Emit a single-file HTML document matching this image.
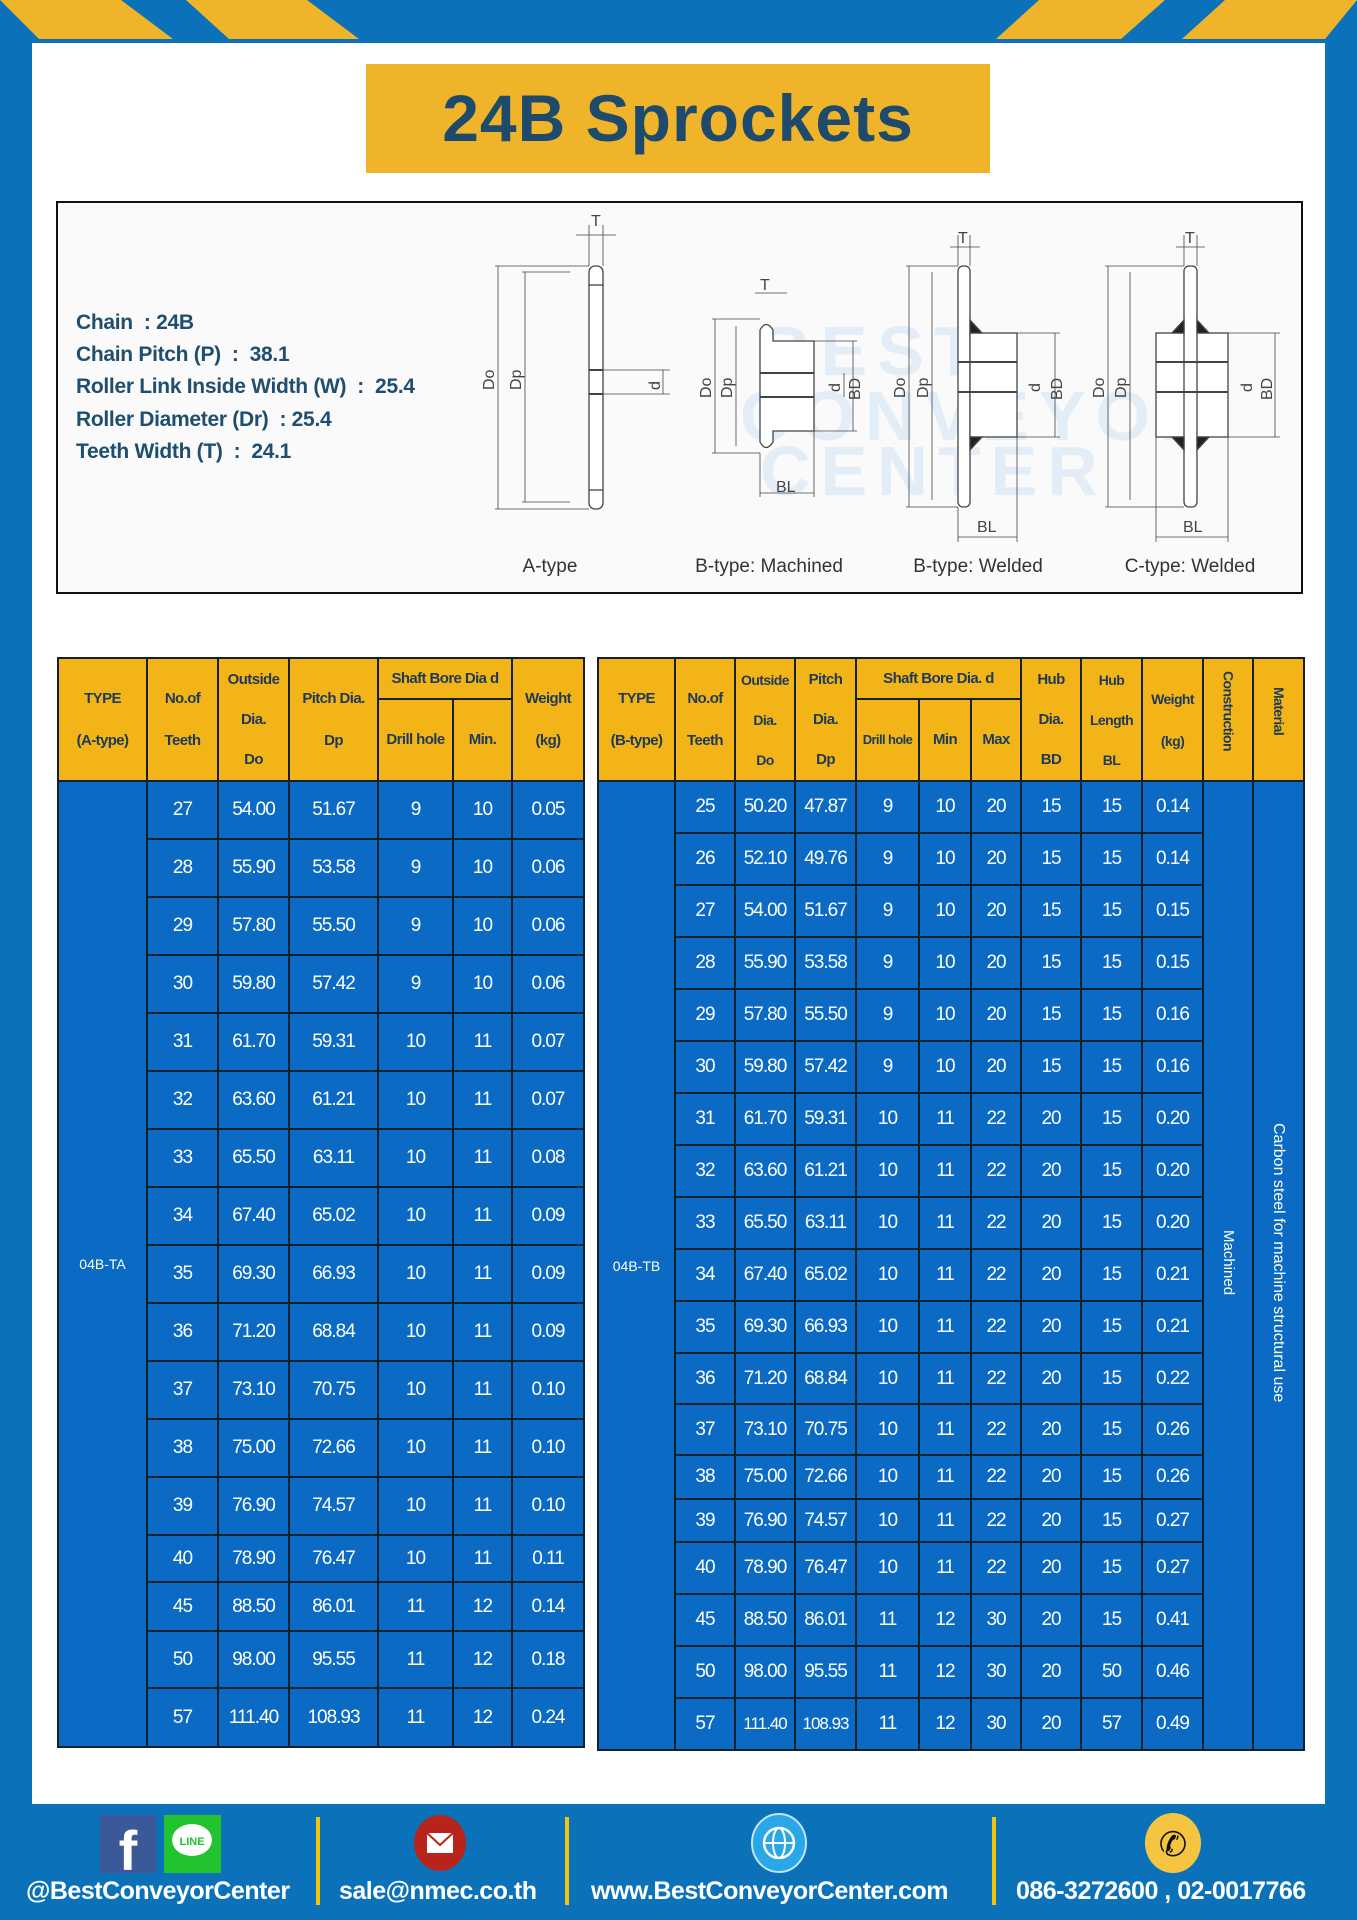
<!DOCTYPE html>
<html><head><meta charset="utf-8">
<style>
*{margin:0;padding:0;box-sizing:border-box}
body{width:1357px;height:1920px;position:relative;background:#0b72ba;font-family:"Liberation Sans",sans-serif;overflow:hidden}
.abs{position:absolute}
#white{left:32px;top:43px;width:1293px;height:1761px;background:#fff}
#title{left:366px;top:64px;width:624px;height:109px;background:#f0b42a;color:#1e4a6b;font-weight:bold;font-size:66px;text-align:center;line-height:109px;letter-spacing:1px}
#diag{left:56px;top:201px;width:1247px;height:393px;border:2.5px solid #111;background:#fafafa}
.spec{left:76px;color:#1f4e6e;font-weight:bold;font-size:21px;white-space:nowrap;letter-spacing:-0.3px}
table{position:absolute;border-collapse:collapse;table-layout:fixed;text-align:center}
td{border:2px solid #14202c;padding:0;overflow:hidden;white-space:nowrap}
.h td{background:#f2b417;color:#1f3a56;font-weight:bold;font-size:15px;line-height:42px;letter-spacing:-0.6px}
.b td{background:#0b6bc4;color:#fff;font-size:19px;letter-spacing:-1px}
.rot{writing-mode:vertical-rl;display:inline-block;line-height:1.2}
.ft{color:#fff;font-weight:bold;font-size:25px;top:1877px;white-space:nowrap;letter-spacing:-0.5px}
.sep{width:4px;height:88px;top:1817px;background:#f2c40f}
</style></head><body>
<div id="white" class="abs"></div>
<svg class="abs" style="left:0;top:0" width="1357" height="1920">
<polygon points="0,0 121,0 173,39 39,39" fill="#f0b42a"/>
<polygon points="186,0 307,0 359,39 229,39" fill="#f0b42a"/>
<polygon points="1039,0 1165,0 1121,39 996,39" fill="#f0b42a"/>
<polygon points="1225,0 1357,0 1325,39 1182,39" fill="#f0b42a"/>
</svg>
<div id="title" class="abs">24B Sprockets</div>
<div id="diag" class="abs"></div>
<div class="abs spec" style="top:311px">Chain&nbsp; : 24B</div>
<div class="abs spec" style="top:343px">Chain Pitch (P)&nbsp; :&nbsp; 38.1</div>
<div class="abs spec" style="top:375px">Roller Link Inside Width (W)&nbsp; :&nbsp; 25.4</div>
<div class="abs spec" style="top:408px">Roller Diameter (Dr)&nbsp; : 25.4</div>
<div class="abs spec" style="top:440px">Teeth Width (T)&nbsp; :&nbsp; 24.1</div>
<svg class="abs" style="left:0;top:0" width="1357" height="700" font-family="Liberation Sans,sans-serif" fill="none" stroke="#444" stroke-width="1.3">
<text x="760" y="375" font-size="70" fill="#e3edf7" stroke="none" font-weight="bold" letter-spacing="10">BEST</text>
<text x="740" y="440" font-size="70" fill="#e3edf7" stroke="none" font-weight="bold" letter-spacing="10">CONVEYOR</text>
<text x="760" y="495" font-size="70" fill="#e3edf7" stroke="none" font-weight="bold" letter-spacing="10">CENTER</text>
<rect x="589" y="266" width="14" height="243" rx="6" fill="#fff"/>
<line x1="589" y1="370" x2="603" y2="370" stroke-width="2"/><line x1="589" y1="394" x2="603" y2="394" stroke-width="2"/>
<line x1="589" y1="285" x2="603" y2="285"/><line x1="589" y1="490" x2="603" y2="490"/>
<line x1="498" y1="266" x2="498" y2="509" stroke-width="0.8"/><line x1="495" y1="266" x2="589" y2="266" stroke-width="0.8"/><line x1="495" y1="509" x2="589" y2="509" stroke-width="0.8"/>
<line x1="525" y1="272" x2="525" y2="502" stroke-width="0.8"/><line x1="522" y1="272" x2="570" y2="272" stroke-width="0.8"/><line x1="522" y1="502" x2="570" y2="502" stroke-width="0.8"/>
<line x1="603" y1="370" x2="670" y2="370" stroke-width="0.8"/><line x1="603" y1="394" x2="670" y2="394" stroke-width="0.8"/><line x1="663" y1="370" x2="663" y2="394" stroke-width="0.8"/>
<line x1="589" y1="225" x2="589" y2="266" stroke-width="0.8"/><line x1="603" y1="225" x2="603" y2="266" stroke-width="0.8"/><line x1="576" y1="235" x2="616" y2="235" stroke-width="0.8"/>
<path d="M760 330 Q766 319 773 330 L773 341 L814 341 L814 431 L773 431 L773 442 Q766 453 760 442 Z" fill="#fff"/>
<line x1="760" y1="373" x2="814" y2="373" stroke-width="2"/><line x1="760" y1="397" x2="814" y2="397" stroke-width="2"/>
<line x1="715" y1="319" x2="715" y2="453" stroke-width="0.8"/><line x1="712" y1="319" x2="760" y2="319" stroke-width="0.8"/><line x1="712" y1="453" x2="760" y2="453" stroke-width="0.8"/>
<line x1="736" y1="326" x2="736" y2="446" stroke-width="0.8"/>
<line x1="853" y1="341" x2="853" y2="431" stroke-width="0.8"/><line x1="814" y1="341" x2="857" y2="341" stroke-width="0.8"/><line x1="814" y1="431" x2="857" y2="431" stroke-width="0.8"/>
<line x1="844" y1="373" x2="844" y2="397" stroke-width="0.8"/>
<line x1="760" y1="493" x2="814" y2="493" stroke-width="0.8"/><line x1="760" y1="453" x2="760" y2="497" stroke-width="0.8"/><line x1="814" y1="431" x2="814" y2="497" stroke-width="0.8"/>
<line x1="755" y1="293" x2="787" y2="293" stroke-width="0.8"/>
<rect x="958" y="266" width="12" height="241" rx="5" fill="#fff"/>
<rect x="970" y="333" width="47" height="104" fill="#fff"/>
<polygon points="970,320 970,333 982,333" fill="#222"/><polygon points="970,450 970,437 982,437" fill="#222"/>
<line x1="958" y1="362" x2="1017" y2="362" stroke-width="2"/><line x1="958" y1="392" x2="1017" y2="392" stroke-width="2"/>
<line x1="909" y1="266" x2="909" y2="507" stroke-width="0.8"/><line x1="906" y1="266" x2="958" y2="266" stroke-width="0.8"/><line x1="906" y1="507" x2="958" y2="507" stroke-width="0.8"/>
<line x1="932" y1="272" x2="932" y2="500" stroke-width="0.8"/>
<line x1="1055" y1="333" x2="1055" y2="437" stroke-width="0.8"/><line x1="1017" y1="333" x2="1060" y2="333" stroke-width="0.8"/><line x1="1017" y1="437" x2="1060" y2="437" stroke-width="0.8"/>
<line x1="958" y1="537" x2="1017" y2="537" stroke-width="0.8"/><line x1="958" y1="507" x2="958" y2="542" stroke-width="0.8"/><line x1="1017" y1="437" x2="1017" y2="542" stroke-width="0.8"/>
<line x1="950" y1="247" x2="980" y2="247" stroke-width="0.8"/><line x1="958" y1="235" x2="958" y2="266" stroke-width="0.8"/><line x1="970" y1="235" x2="970" y2="266" stroke-width="0.8"/>
<rect x="1156" y="333" width="72" height="104" fill="#fff"/>
<rect x="1184" y="266" width="13" height="241" rx="5" fill="#fff"/>
<polygon points="1184,320 1184,333 1172,333" fill="#222"/><polygon points="1197,320 1197,333 1209,333" fill="#222"/>
<polygon points="1184,450 1184,437 1172,437" fill="#222"/><polygon points="1197,450 1197,437 1209,437" fill="#222"/>
<line x1="1156" y1="362" x2="1228" y2="362" stroke-width="2"/><line x1="1156" y1="392" x2="1228" y2="392" stroke-width="2"/>
<line x1="1108" y1="266" x2="1108" y2="507" stroke-width="0.8"/><line x1="1105" y1="266" x2="1184" y2="266" stroke-width="0.8"/><line x1="1105" y1="507" x2="1184" y2="507" stroke-width="0.8"/>
<line x1="1130" y1="272" x2="1130" y2="500" stroke-width="0.8"/>
<line x1="1275" y1="333" x2="1275" y2="437" stroke-width="0.8"/><line x1="1228" y1="333" x2="1280" y2="333" stroke-width="0.8"/><line x1="1228" y1="437" x2="1280" y2="437" stroke-width="0.8"/>
<line x1="1156" y1="537" x2="1228" y2="537" stroke-width="0.8"/><line x1="1156" y1="437" x2="1156" y2="542" stroke-width="0.8"/><line x1="1228" y1="437" x2="1228" y2="542" stroke-width="0.8"/>
<line x1="1176" y1="247" x2="1205" y2="247" stroke-width="0.8"/><line x1="1184" y1="235" x2="1184" y2="266" stroke-width="0.8"/><line x1="1197" y1="235" x2="1197" y2="266" stroke-width="0.8"/>
<g fill="#444" stroke="none" font-size="16">
<text x="591" y="226">T</text><text x="760" y="290">T</text><text x="958" y="243">T</text><text x="1185" y="243">T</text>
<text transform="translate(494,390) rotate(-90)">Do</text><text transform="translate(521,390) rotate(-90)">Dp</text><text transform="translate(660,390) rotate(-90)">d</text>
<text transform="translate(711,398) rotate(-90)">Do</text><text transform="translate(732,398) rotate(-90)">Dp</text><text transform="translate(840,392) rotate(-90)">d</text><text transform="translate(860,400) rotate(-90)">BD</text>
<text transform="translate(905,398) rotate(-90)">Do</text><text transform="translate(928,398) rotate(-90)">Dp</text><text transform="translate(1040,392) rotate(-90)">d</text><text transform="translate(1062,400) rotate(-90)">BD</text>
<text transform="translate(1104,398) rotate(-90)">Do</text><text transform="translate(1126,398) rotate(-90)">Dp</text><text transform="translate(1252,392) rotate(-90)">d</text><text transform="translate(1272,400) rotate(-90)">BD</text>
<text x="776" y="492">BL</text><text x="977" y="532">BL</text><text x="1183" y="532">BL</text>
</g>
<g fill="#333" stroke="none" font-size="19" text-anchor="middle">
<text x="550" y="572">A-type</text><text x="769" y="572">B-type: Machined</text><text x="978" y="572">B-type: Welded</text><text x="1190" y="572">C-type: Welded</text>
</g>
</svg>

<table style="left:57px;top:657px;width:526px">
<colgroup><col style="width:89px"><col style="width:71px"><col style="width:71px"><col style="width:89px"><col style="width:75px"><col style="width:59px"><col style="width:72px"></colgroup>
<tr class="h" style="height:41px"><td rowspan="2">TYPE<br>(A-type)</td><td rowspan="2">No.of<br>Teeth</td><td rowspan="2" style="line-height:40px">Outside<br>Dia.<br>Do</td><td rowspan="2">Pitch Dia.<br>Dp</td><td colspan="2" style="line-height:20px">Shaft Bore Dia d</td><td rowspan="2">Weight<br>(kg)</td></tr>
<tr class="h" style="height:82px"><td>Drill hole</td><td>Min.</td></tr>
<tbody class="b">
<tr style="height:58px"><td rowspan="17" style="font-size:14px;letter-spacing:0">04B-TA</td><td>27</td><td>54.00</td><td>51.67</td><td>9</td><td>10</td><td>0.05</td></tr>
<tr style="height:58px"><td>28</td><td>55.90</td><td>53.58</td><td>9</td><td>10</td><td>0.06</td></tr>
<tr style="height:58px"><td>29</td><td>57.80</td><td>55.50</td><td>9</td><td>10</td><td>0.06</td></tr>
<tr style="height:58px"><td>30</td><td>59.80</td><td>57.42</td><td>9</td><td>10</td><td>0.06</td></tr>
<tr style="height:58px"><td>31</td><td>61.70</td><td>59.31</td><td>10</td><td>11</td><td>0.07</td></tr>
<tr style="height:58px"><td>32</td><td>63.60</td><td>61.21</td><td>10</td><td>11</td><td>0.07</td></tr>
<tr style="height:58px"><td>33</td><td>65.50</td><td>63.11</td><td>10</td><td>11</td><td>0.08</td></tr>
<tr style="height:58px"><td>34</td><td>67.40</td><td>65.02</td><td>10</td><td>11</td><td>0.09</td></tr>
<tr style="height:58px"><td>35</td><td>69.30</td><td>66.93</td><td>10</td><td>11</td><td>0.09</td></tr>
<tr style="height:58px"><td>36</td><td>71.20</td><td>68.84</td><td>10</td><td>11</td><td>0.09</td></tr>
<tr style="height:58px"><td>37</td><td>73.10</td><td>70.75</td><td>10</td><td>11</td><td>0.10</td></tr>
<tr style="height:58px"><td>38</td><td>75.00</td><td>72.66</td><td>10</td><td>11</td><td>0.10</td></tr>
<tr style="height:58px"><td>39</td><td>76.90</td><td>74.57</td><td>10</td><td>11</td><td>0.10</td></tr>
<tr style="height:47px"><td>40</td><td>78.90</td><td>76.47</td><td>10</td><td>11</td><td>0.11</td></tr>
<tr style="height:49px"><td>45</td><td>88.50</td><td>86.01</td><td>11</td><td>12</td><td>0.14</td></tr>
<tr style="height:57px"><td>50</td><td>98.00</td><td>95.55</td><td>11</td><td>12</td><td>0.18</td></tr>
<tr style="height:59px"><td>57</td><td>111.40</td><td>108.93</td><td>11</td><td>12</td><td>0.24</td></tr>
</tbody></table>

<table style="left:597px;top:657px;width:706px">
<colgroup><col style="width:77px"><col style="width:60px"><col style="width:60px"><col style="width:61px"><col style="width:63px"><col style="width:52px"><col style="width:50px"><col style="width:60px"><col style="width:61px"><col style="width:61px"><col style="width:50px"><col style="width:51px"></colgroup>
<tr class="h" style="height:41px"><td rowspan="2">TYPE<br>(B-type)</td><td rowspan="2">No.of<br>Teeth</td><td rowspan="2" style="line-height:40px;font-size:14px">Outside<br>Dia.<br>Do</td><td rowspan="2" style="line-height:40px">Pitch<br>Dia.<br>Dp</td><td colspan="3" style="line-height:20px">Shaft Bore Dia. d</td><td rowspan="2" style="line-height:40px">Hub<br>Dia.<br>BD</td><td rowspan="2" style="line-height:40px;font-size:14px">Hub<br>Length<br>BL</td><td rowspan="2" style="font-size:14px">Weight<br>(kg)</td><td rowspan="2"><span class="rot" style="font-size:14px">Construction</span></td><td rowspan="2"><span class="rot" style="font-size:14px">Material</span></td></tr>
<tr class="h" style="height:82px"><td style="font-size:13px">Drill hole</td><td>Min</td><td>Max</td></tr>
<tbody class="b" style="font-size:18px">
<tr style="height:52px"><td rowspan="19" style="font-size:14px;letter-spacing:0">04B-TB</td><td>25</td><td>50.20</td><td>47.87</td><td>9</td><td>10</td><td>20</td><td>15</td><td>15</td><td>0.14</td><td rowspan="19"><span class="rot" style="font-size:15px;letter-spacing:0">Machined</span></td><td rowspan="19"><span class="rot" style="font-size:16px;letter-spacing:0">Carbon steel for machine structural use</span></td></tr>
<tr style="height:52px"><td>26</td><td>52.10</td><td>49.76</td><td>9</td><td>10</td><td>20</td><td>15</td><td>15</td><td>0.14</td></tr>
<tr style="height:52px"><td>27</td><td>54.00</td><td>51.67</td><td>9</td><td>10</td><td>20</td><td>15</td><td>15</td><td>0.15</td></tr>
<tr style="height:52px"><td>28</td><td>55.90</td><td>53.58</td><td>9</td><td>10</td><td>20</td><td>15</td><td>15</td><td>0.15</td></tr>
<tr style="height:52px"><td>29</td><td>57.80</td><td>55.50</td><td>9</td><td>10</td><td>20</td><td>15</td><td>15</td><td>0.16</td></tr>
<tr style="height:52px"><td>30</td><td>59.80</td><td>57.42</td><td>9</td><td>10</td><td>20</td><td>15</td><td>15</td><td>0.16</td></tr>
<tr style="height:52px"><td>31</td><td>61.70</td><td>59.31</td><td>10</td><td>11</td><td>22</td><td>20</td><td>15</td><td>0.20</td></tr>
<tr style="height:52px"><td>32</td><td>63.60</td><td>61.21</td><td>10</td><td>11</td><td>22</td><td>20</td><td>15</td><td>0.20</td></tr>
<tr style="height:52px"><td>33</td><td>65.50</td><td>63.11</td><td>10</td><td>11</td><td>22</td><td>20</td><td>15</td><td>0.20</td></tr>
<tr style="height:52px"><td>34</td><td>67.40</td><td>65.02</td><td>10</td><td>11</td><td>22</td><td>20</td><td>15</td><td>0.21</td></tr>
<tr style="height:52px"><td>35</td><td>69.30</td><td>66.93</td><td>10</td><td>11</td><td>22</td><td>20</td><td>15</td><td>0.21</td></tr>
<tr style="height:51px"><td>36</td><td>71.20</td><td>68.84</td><td>10</td><td>11</td><td>22</td><td>20</td><td>15</td><td>0.22</td></tr>
<tr style="height:51px"><td>37</td><td>73.10</td><td>70.75</td><td>10</td><td>11</td><td>22</td><td>20</td><td>15</td><td>0.26</td></tr>
<tr style="height:44px"><td>38</td><td>75.00</td><td>72.66</td><td>10</td><td>11</td><td>22</td><td>20</td><td>15</td><td>0.26</td></tr>
<tr style="height:43px"><td>39</td><td>76.90</td><td>74.57</td><td>10</td><td>11</td><td>22</td><td>20</td><td>15</td><td>0.27</td></tr>
<tr style="height:52px"><td>40</td><td>78.90</td><td>76.47</td><td>10</td><td>11</td><td>22</td><td>20</td><td>15</td><td>0.27</td></tr>
<tr style="height:52px"><td>45</td><td>88.50</td><td>86.01</td><td>11</td><td>12</td><td>30</td><td>20</td><td>15</td><td>0.41</td></tr>
<tr style="height:52px"><td>50</td><td>98.00</td><td>95.55</td><td>11</td><td>12</td><td>30</td><td>20</td><td>50</td><td>0.46</td></tr>
<tr style="height:52px"><td>57</td><td style="font-size:17px">111.40</td><td style="font-size:17px">108.93</td><td>11</td><td>12</td><td>30</td><td>20</td><td>57</td><td>0.49</td></tr>
</tbody></table>

<svg class="abs" style="left:0;top:1800px" width="1357" height="120">
<rect x="100" y="15" width="56" height="58" fill="#3b5998"/>
<text x="128" y="70" font-size="56" font-weight="bold" fill="#fff" text-anchor="middle" font-family="Liberation Sans,sans-serif">f</text>
<rect x="164" y="15" width="57" height="58" fill="#22c32e"/>
<ellipse cx="192" cy="40" rx="20" ry="16" fill="#fff"/>
<text x="192" y="45" font-size="11" font-weight="bold" fill="#22c32e" text-anchor="middle" font-family="Liberation Sans,sans-serif">LINE</text>
<ellipse cx="440" cy="43" rx="26" ry="28" fill="#b8241c"/>
<rect x="427" y="33" width="26" height="20" fill="#fff"/><path d="M427 33 L440 45 L453 33" stroke="#b8241c" stroke-width="2" fill="none"/>
<ellipse cx="779" cy="43" rx="27" ry="29" fill="#2aa7e6" stroke="#bfe6fa" stroke-width="2"/>
<circle cx="779" cy="43" r="15" fill="none" stroke="#fff" stroke-width="2.5"/><line x1="764" y1="43" x2="794" y2="43" stroke="#fff" stroke-width="2"/><ellipse cx="779" cy="43" rx="6" ry="15" fill="none" stroke="#fff" stroke-width="2"/>
<ellipse cx="1173" cy="43" rx="28" ry="30" fill="#f5c542"/>
<text x="1173" y="56" font-size="34" fill="#111" text-anchor="middle">✆</text>
</svg>
<div class="abs sep" style="left:316px"></div>
<div class="abs sep" style="left:565px"></div>
<div class="abs sep" style="left:992px"></div>
<div class="abs ft" style="left:26px">@BestConveyorCenter</div>
<div class="abs ft" style="left:339px">sale@nmec.co.th</div>
<div class="abs ft" style="left:591px">www.BestConveyorCenter.com</div>
<div class="abs ft" style="left:1016px">086-3272600 , 02-0017766</div>
</body></html>
